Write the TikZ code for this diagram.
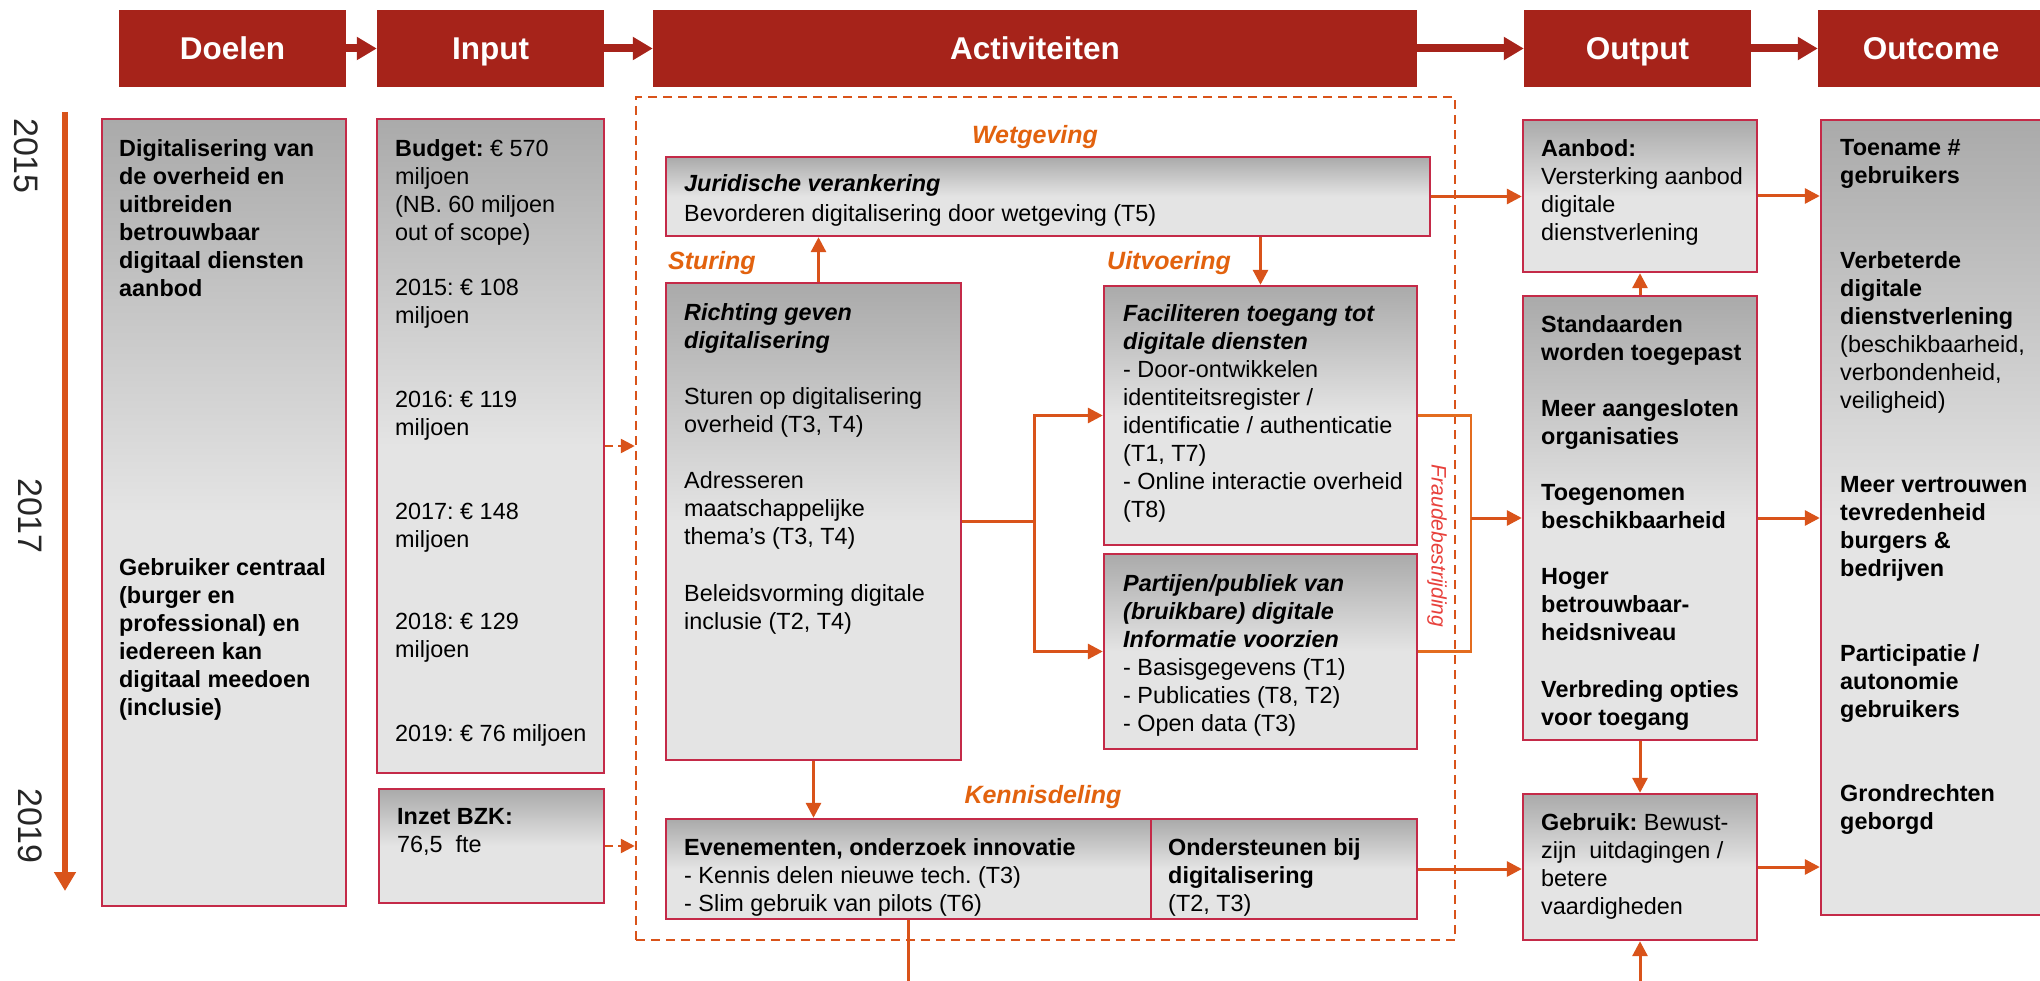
\documentclass[tikz,border=0pt]{standalone}
\usepackage{fontspec}
\setmainfont{Liberation Sans}
\usetikzlibrary{arrows.meta,calc}
\frenchspacing
\definecolor{hdr}{HTML}{A6231A}
\definecolor{boxline}{HTML}{C42A48}
\definecolor{boxdark}{HTML}{AAAAAA}
\definecolor{boxlight}{HTML}{E4E4E4}
\definecolor{conor}{HTML}{D9531A}
\definecolor{lblor}{HTML}{E2620E}
\definecolor{fraudred}{HTML}{E8413C}
\definecolor{brk}{HTML}{E36C1F}
\pgfdeclareverticalshading{boxshade}{100bp}{color(0bp)=(boxlight); color(25bp)=(boxlight); color(50bp)=(boxlight); color(75bp)=(boxdark); color(100bp)=(boxdark)}
\newcommand\bodyfont{\fontsize{23.4}{28}\selectfont}
\newcommand\hdrfont{\fontsize{31.5}{36}\selectfont\bfseries}
\newcommand\lblfont{\fontsize{25}{30}\selectfont\bfseries\itshape}
\newcommand\bfit[1]{\textbf{\textit{#1}}}
\tikzset{
  hdrbox/.style={fill=hdr, text=white, font=\hdrfont, minimum height=77pt, inner sep=0pt, text height=27pt, text depth=4pt},
  box/.style={draw=boxline, line width=2.4pt, shade, shading=boxshade, inner sep=0pt},
  txt/.style={anchor=north west, inner sep=0pt, align=left, font=\bodyfont, text=black},
  txtb/.style={txt, font=\bodyfont\bfseries},
  txtbi/.style={txt, font=\bodyfont\bfseries\itshape},
  lbl/.style={text=lblor, font=\lblfont, inner sep=0pt},
  conn/.style={draw=conor, line width=3pt, -{Triangle[length=15pt,width=15pt]}},
  plainconn/.style={draw=conor, line width=3pt},
  brkline/.style={draw=brk, line width=2.2pt},
  hdrarrow/.style={draw=hdr, line width=8pt, -{Triangle[length=20pt,width=22pt]}},
  dasharrow/.style={draw=conor, line width=2.5pt, dash pattern=on 8pt off 5pt, -{Triangle[length=14pt,width=14pt]}},
  dashframe/.style={draw=conor, line width=2.5pt, dash pattern=on 9pt off 6pt, inner sep=0pt},
  yearlbl/.style={font=\fontsize{34}{40}\selectfont, text=black!85, inner sep=0pt},
  fraudlbl/.style={font=\fontsize{21}{25}\selectfont\itshape, text=fraudred, inner sep=0pt},
  timeline/.style={draw=conor, line width=6pt, -{Triangle[length=19pt,width=21pt]}}
}
\begin{document}
\begin{tikzpicture}[x=1pt,y=-1pt]
\useasboundingbox (0,0) rectangle (2040,981);
\fill[white] (0,0) rectangle (2040,981);

% headers
\node[hdrbox, minimum width=227pt] (hdoel) at (232.5,48.5) {Doelen};
\node[hdrbox, minimum width=227pt] (hin) at (490.5,48.5) {Input};
\node[hdrbox, minimum width=764pt] (hact) at (1035,48.5) {Activiteiten};
\node[hdrbox, minimum width=227pt] (hout) at (1637.5,48.5) {Output};
\node[hdrbox, minimum width=226pt] (hoc) at (1931,48.5) {Outcome};
\draw[hdrarrow] (hdoel.east) -- (hin.west);
\draw[hdrarrow] (hin.east) -- (hact.west);
\draw[hdrarrow] (hact.east) -- (hout.west);
\draw[hdrarrow] (hout.east) -- (hoc.west);

% timeline
\coordinate (tltop) at (65,112);
\coordinate (tlbot) at (65,891);
\draw[timeline] (tltop) -- (tlbot);
\node[yearlbl, rotate=-90] (y15) at (26,156) {2015};
\node[yearlbl, rotate=-90] (y17) at (30,516) {2017};
\node[yearlbl, rotate=-90] (y19) at (30,826) {2019};

% dashed activities frame
\node[dashframe, minimum width=819pt, minimum height=843pt] (frame) at (1045.5,518.5) {};

% boxes
\node[box, minimum width=244pt, minimum height=787pt] (doelen) at (224,512.5) {};
\node[box, minimum width=227pt, minimum height=654pt] (input) at (490.5,446) {};
\node[box, minimum width=225pt, minimum height=114pt] (inzet) at (491.5,846) {};
\node[box, minimum width=764pt, minimum height=79pt] (jur) at (1048,196.5) {};
\node[box, minimum width=295pt, minimum height=477pt] (richt) at (813.5,521.5) {};
\node[box, minimum width=313pt, minimum height=259pt] (facil) at (1260.5,415.5) {};
\node[box, minimum width=313pt, minimum height=195pt] (partij) at (1260.5,651.5) {};
\node[box, minimum width=485pt, minimum height=100pt] (evenL) at (908.5,869) {};
\node[box, minimum width=266pt, minimum height=100pt] (evenR) at (1284,869) {};
\node[box, minimum width=234pt, minimum height=152pt] (aanbod) at (1640,196) {};
\node[box, minimum width=234pt, minimum height=444pt] (stand) at (1640,518) {};
\node[box, minimum width=234pt, minimum height=146pt] (gebruik) at (1640,867) {};
\node[box, minimum width=239pt, minimum height=795pt] (outcome) at (1940.5,517.5) {};

% texts: Doelen
\node[txtb] (d1) at (119,139) {Digitalisering van\\de overheid en\\uitbreiden\\betrouwbaar\\digitaal diensten\\aanbod};
\node[txtb] (d2) at (119,558) {Gebruiker centraal\\(burger en\\professional) en\\iedereen kan\\digitaal meedoen\\(inclusie)};
% Input
\node[txt] (i1) at (395,139) {\textbf{Budget:} € 570\\miljoen\\(NB. 60 miljoen\\out of scope)};
\node[txt] (i2) at (395,279) {2015: € 108\\miljoen};
\node[txt] (i3) at (395,391) {2016: € 119\\miljoen};
\node[txt] (i4) at (395,503) {2017: € 148\\miljoen};
\node[txt] (i5) at (395,613) {2018: € 129\\miljoen};
\node[txt] (i6) at (395,724) {2019: € 76 miljoen};
\node[txt] (iz) at (397,808) {\textbf{Inzet BZK:}\\76,5\ \ fte};
% Activities
\node[txt] (jt) at (684,174) {\bfit{Juridische verankering}\\[2pt]Bevorderen digitalisering door wetgeving (T5)};
\node[txtbi] (r1) at (684,303) {Richting geven\\digitalisering};
\node[txt] (r2) at (684,387) {Sturen op digitalisering\\overheid (T3, T4)};
\node[txt] (r3) at (684,471) {Adresseren\\maatschappelijke\\thema’s (T3, T4)};
\node[txt] (r4) at (684,584) {Beleidsvorming digitale\\inclusie (T2, T4)};
\node[txt] (ft) at (1123,304) {\bfit{Faciliteren toegang tot}\\\bfit{digitale diensten}\\- Door-ontwikkelen\\identiteitsregister /\\identificatie / authenticatie\\(T1, T7)\\- Online interactie overheid\\(T8)};
\node[txt] (pt) at (1123,574) {\bfit{Partijen/publiek van}\\\bfit{(bruikbare) digitale}\\\bfit{Informatie voorzien}\\- Basisgegevens (T1)\\- Publicaties (T8, T2)\\- Open data (T3)};
\node[txt] (elt) at (684,838) {\textbf{Evenementen, onderzoek innovatie}\\- Kennis delen nieuwe tech. (T3)\\- Slim gebruik van pilots (T6)};
\node[txt] (ert) at (1168,838) {\textbf{Ondersteunen bij}\\\textbf{digitalisering}\\(T2, T3)};
% Output
\node[txt] (at) at (1541,139) {\textbf{Aanbod:}\\Versterking aanbod\\digitale\\dienstverlening};
\node[txtb] (s1) at (1541,315) {Standaarden\\worden toegepast};
\node[txtb] (s2) at (1541,399) {Meer aangesloten\\organisaties};
\node[txtb] (s3) at (1541,484) {Toegenomen\\beschikbaarheid};
\node[txtb] (s4) at (1541,568) {Hoger\\betrouwbaar-\\heidsniveau};
\node[txtb] (s5) at (1541,680) {Verbreding opties\\voor toegang};
\node[txt] (gt) at (1541,813) {\textbf{Gebruik:} Bewust-\\zijn\ \ uitdagingen /\\betere\\vaardigheden};
% Outcome
\node[txtb] (o1) at (1840,139) {Toename \#\\gebruikers};
\node[txt] (o2) at (1840,251) {\textbf{Verbeterde}\\\textbf{digitale}\\\textbf{dienstverlening}\\(beschikbaarheid,\\verbondenheid,\\veiligheid)};
\node[txtb] (o3) at (1840,476) {Meer vertrouwen\\tevredenheid\\burgers \&\\bedrijven};
\node[txtb] (o4) at (1840,644) {Participatie /\\autonomie\\gebruikers};
\node[txtb] (o5) at (1840,784) {Grondrechten\\geborgd};

% orange labels
\node[lbl] (wet) at (1035,137) {Wetgeving};
\node[lbl, anchor=west] (stur) at (668,263) {Sturing};
\node[lbl, anchor=west] (uitv) at (1107,263) {Uitvoering};
\node[lbl] (kenn) at (1043,797) {Kennisdeling};
\node[fraudlbl, rotate=-90] (fraud) at (1437,546) {Fraudebestrijding};

% connectors
\draw[dasharrow] (input.east) -- (input.east -| frame.west);
\draw[dasharrow] (inzet.east) -- (inzet.east -| frame.west);
\draw[conn] ([xshift=5pt]richt.north) -- ([xshift=5pt]richt.north |- jur.south);
\draw[conn] (facil.north |- jur.south) -- (facil.north);
\draw[plainconn] (richt.east) -- ++(72,0) coordinate (br);
\draw[conn] (br) |- (facil.west);
\draw[conn] (br) |- (partij.west);
\draw[brkline] (facil.east) -- ++(53,0) coordinate (fb) |- (partij.east);
\draw[conn] (fb |- stand.west) -- (stand.west);
\draw[conn] (richt.south) -- (richt.south |- evenL.north);
\coordinate (evbot) at (908.5,990);
\draw[plainconn] (evenL.south) -- (evbot);
\draw[conn] (evenR.east) -- (evenR.east -| gebruik.west);
\draw[conn] (jur.east) -- (jur.east -| aanbod.west);
\draw[conn] (stand.north) -- (aanbod.south);
\draw[conn] (stand.south) -- (gebruik.north);
\coordinate (gbot) at (1640,990);
\draw[conn] (gbot) -- (gebruik.south);
\draw[conn] (aanbod.east) -- (aanbod.east -| outcome.west);
\draw[conn] (stand.east) -- (stand.east -| outcome.west);
\draw[conn] (gebruik.east) -- (gebruik.east -| outcome.west);
\end{tikzpicture}
\end{document}
